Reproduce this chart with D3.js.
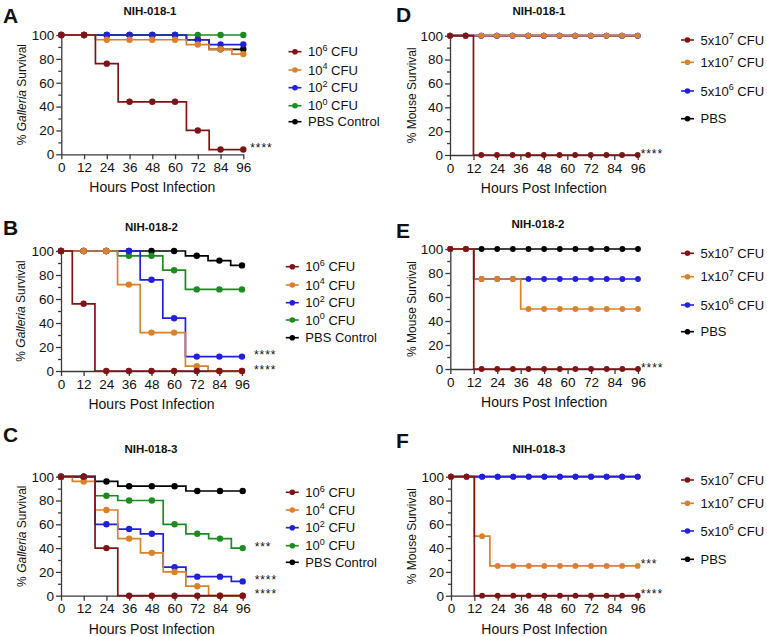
<!DOCTYPE html>
<html>
<head>
<meta charset="utf-8">
<script src="https://cdn.jsdelivr.net/npm/d3@7"></script>
<style>
  body { margin: 0; background: #fff; }
  svg text { font-family: "Liberation Sans", Arial, Helvetica, sans-serif; fill: #111; }
</style>
</head>
<body>
<svg id="fig" width="767" height="636"></svg>
<script>
// ---- data ----
const galleriaHours = [0, 12, 24, 36, 48, 60, 72, 84, 96];
const mouseHours = [0, 8, 16, 24, 32, 40, 48, 56, 64, 72, 80, 88, 96];
const xTicks = [0, 12, 24, 36, 48, 60, 72, 84, 96];
const yTicks = [0, 20, 40, 60, 80, 100];
const yMinorTicks = [10, 30, 50, 70, 90];

// legend labels: [base, superscript, suffix]
const galleriaLabels = [["10", "6", " CFU"], ["10", "4", " CFU"], ["10", "2", " CFU"], ["10", "0", " CFU"], ["PBS Control", "", ""]];
const mouseLabels = [["5x10", "7", " CFU"], ["1x10", "7", " CFU"], ["5x10", "6", " CFU"], ["PBS", "", ""]];
const galleriaColors = ["#7e1416", "#d9822b", "#2121dc", "#1e8a22", "#000000"];
const mouseColors = ["#7e1416", "#d9822b", "#2121dc", "#000000"];

// A  NIH-018-1 (Galleria)
const A_1e6 = [100, 100, 76, 44, 44, 44, 20, 4, 4];
const A_1e4 = [100, 100, 96, 96, 96, 96, 92, 88, 84];
const A_1e2 = [100, 100, 100, 100, 100, 100, 96, 92, 92];
const A_1e0 = [100, 100, 100, 100, 100, 100, 100, 100, 100];
const A_pbs = [100, 100, 100, 100, 100, 100, 96, 88, 88];
// B  NIH-018-2 (Galleria)
const B_1e6 = [100, 56, 0, 0, 0, 0, 0, 0, 0];
const B_1e4 = [100, 100, 100, 72, 32, 32, 4, 0, 0];
const B_1e2 = [100, 100, 100, 100, 76, 44, 12, 12, 12];
const B_1e0 = [100, 100, 100, 96, 96, 84, 68, 68, 68];
const B_pbs = [100, 100, 100, 100, 100, 100, 96, 92, 88];
// C  NIH-018-3 (Galleria)
const C_1e6 = [100, 100, 40, 0, 0, 0, 0, 0, 0];
const C_1e4 = [100, 96, 72, 48, 36, 20, 8, 0, 0];
const C_1e2 = [100, 100, 60, 56, 52, 24, 16, 16, 12];
const C_1e0 = [100, 100, 84, 80, 80, 60, 52, 48, 40];
const C_pbs = [100, 100, 96, 92, 92, 92, 88, 88, 88];
// D  NIH-018-1 (mouse)
const D_5e7 = [100, 100, 0, 0, 0, 0, 0, 0, 0, 0, 0, 0, 0];
const D_1e7 = [100, 100, 100, 100, 100, 100, 100, 100, 100, 100, 100, 100, 100];
const D_5e6 = [100, 100, 100, 100, 100, 100, 100, 100, 100, 100, 100, 100, 100];
const D_pbs = [100, 100, 100, 100, 100, 100, 100, 100, 100, 100, 100, 100, 100];
// E  NIH-018-2 (mouse)
const E_5e7 = [100, 100, 0, 0, 0, 0, 0, 0, 0, 0, 0, 0, 0];
const E_1e7 = [100, 100, 75, 75, 75, 50, 50, 50, 50, 50, 50, 50, 50];
const E_5e6 = [100, 100, 75, 75, 75, 75, 75, 75, 75, 75, 75, 75, 75];
const E_pbs = [100, 100, 100, 100, 100, 100, 100, 100, 100, 100, 100, 100, 100];
// F  NIH-018-3 (mouse)
const F_5e7 = [100, 100, 0, 0, 0, 0, 0, 0, 0, 0, 0, 0, 0];
const F_1e7 = [100, 100, 50, 25, 25, 25, 25, 25, 25, 25, 25, 25, 25];
const F_5e6 = [100, 100, 100, 100, 100, 100, 100, 100, 100, 100, 100, 100, 100];
const F_pbs = [100, 100, 100, 100, 100, 100, 100, 100, 100, 100, 100, 100, 100];

// significance marks: [survival value at 96 h, label]
const A_stars = [[4, "****"]];
const B_stars = [[12, "****"], [0, "****"]];
const C_stars = [[40, "***"], [12, "****"], [0, "****"]];
const D_stars = [[0, "****"]];
const E_stars = [[0, "****"]];
const F_stars = [[25, "***"], [0, "****"]];

// ---- layout ----
const panels = [
  { letter: "A", title: "NIH-018-1", kind: "g", series: [A_1e6, A_1e4, A_1e2, A_1e0, A_pbs], stars: A_stars,
    left: 61.3, right: 243.3, top: 35, bottom: 154.3, letterY: 23, titleX: 150, titleY: 15,
    legX: 295, legRows: [51.7, 70, 87.7, 105.7, 121.7], starDx: 7, yTitleX: 22 },
  { letter: "B", title: "NIH-018-2", kind: "g", series: [B_1e6, B_1e4, B_1e2, B_1e0, B_pbs], stars: B_stars,
    left: 61, right: 242, top: 251, bottom: 371, letterY: 235, titleX: 151.5, titleY: 231,
    legX: 292.3, legRows: [266.7, 285, 302.7, 320, 337.7], starDx: 12, yTitleX: 21 },
  { letter: "C", title: "NIH-018-3", kind: "g", series: [C_1e6, C_1e4, C_1e2, C_1e0, C_pbs], stars: C_stars,
    left: 61, right: 242.7, top: 476.7, bottom: 595.7, letterY: 442, titleX: 151, titleY: 453,
    legX: 292.3, legRows: [492.3, 510, 527.7, 545.7, 562.3], starDx: 12, yTitleX: 22 },
  { letter: "D", title: "NIH-018-1", kind: "m", series: [D_5e7, D_1e7, D_5e6, D_pbs], stars: D_stars,
    left: 450, right: 637.7, top: 35.7, bottom: 155, letterY: 22, titleX: 539, titleY: 15,
    legX: 687.5, legRows: [40, 62.3, 91, 118.7], starDx: 3, yTitleX: 412 },
  { letter: "E", title: "NIH-018-2", kind: "m", series: [E_5e7, E_1e7, E_5e6, E_pbs], stars: E_stars,
    left: 450.3, right: 638, top: 249, bottom: 369, letterY: 238, titleX: 538, titleY: 228,
    legX: 687.5, legRows: [253.3, 276.7, 305, 331.7], starDx: 3, yTitleX: 412 },
  { letter: "F", title: "NIH-018-3", kind: "m", series: [F_5e7, F_1e7, F_5e6, F_pbs], stars: F_stars,
    left: 451, right: 637.7, top: 476.7, bottom: 595.7, letterY: 448, titleX: 539, titleY: 453,
    legX: 687.5, legRows: [480, 503.3, 531, 559.3], starDx: 3, yTitleX: 412 }
];

const svg = d3.select("#fig");
const axisColor = "#3a3a3a";

panels.forEach(p => {
  const isG = p.kind === "g";
  const hours = isG ? galleriaHours : mouseHours;
  const colors = isG ? galleriaColors : mouseColors;
  const labels = isG ? galleriaLabels : mouseLabels;
  const r = isG ? 3.2 : 2.9;

  const x = d3.scaleLinear().domain([0, 96]).range([p.left, p.right]);
  const y = d3.scaleLinear().domain([0, 100]).range([p.bottom, p.top]);
  const g = svg.append("g");

  // panel letter + title
  g.append("text").attr("x", isG ? 3 : 396).attr("y", p.letterY)
    .attr("font-size", 21).attr("font-weight", "bold").text(p.letter);
  g.append("text").attr("x", p.titleX).attr("y", p.titleY).attr("text-anchor", "middle")
    .attr("font-size", 11.5).attr("font-weight", "bold").text(p.title);

  // axes
  g.append("g").attr("transform", `translate(${p.left},0)`)
    .call(d3.axisLeft(y).tickValues(yTicks).tickSize(5).tickSizeOuter(0).tickPadding(2));
  g.append("g").attr("transform", `translate(${p.left},0)`)
    .call(d3.axisLeft(y).tickValues(yMinorTicks).tickSize(3).tickFormat(""))
    .select(".domain").remove();
  g.append("g").attr("transform", `translate(0,${p.bottom})`)
    .call(d3.axisBottom(x).tickValues(xTicks).tickSize(5).tickSizeOuter(0).tickPadding(3));

  g.selectAll(".domain, .tick line").attr("stroke", axisColor).attr("stroke-width", 1.3);
  g.selectAll(".tick text").attr("font-size", 13.5).attr("fill", "#111")
    .attr("font-family", "Liberation Sans, Arial, sans-serif");

  // axis titles
  g.append("text").attr("x", (p.left + p.right) / 2).attr("y", p.bottom + 38)
    .attr("text-anchor", "middle").attr("font-size", 14).text("Hours Post Infection");
  const yt = g.append("text")
    .attr("transform", `translate(${p.yTitleX},${(p.top + p.bottom) / 2}) rotate(-90)`)
    .attr("text-anchor", "middle").attr("dy", "0.35em").attr("font-size", 12);
  if (isG) {
    yt.append("tspan").text("% ");
    yt.append("tspan").attr("font-style", "italic").text("Galleria");
    yt.append("tspan").text(" Survival");
  } else {
    yt.text("% Mouse Survival");
  }

  // survival curves, drawn from control up to highest dose
  const line = d3.line().x((d, i) => x(hours[i])).y(d => y(d)).curve(d3.curveStep);
  const order = d3.range(p.series.length).reverse();
  order.forEach(k => {
    const s = g.append("g");
    s.append("path").attr("d", line(p.series[k])).attr("fill", "none")
      .attr("stroke", colors[k]).attr("stroke-width", 1.7);
    s.selectAll("circle").data(p.series[k]).enter().append("circle")
      .attr("cx", (d, i) => x(hours[i])).attr("cy", d => y(d)).attr("r", r)
      .attr("fill", colors[k]);
  });

  // significance stars
  p.stars.forEach(([v, t]) => {
    g.append("text").attr("x", p.right + p.starDx).attr("y", y(v) + 2.5)
      .attr("font-size", 12).attr("letter-spacing", 0.9).text(t);
  });

  // legend
  labels.forEach((lab, k) => {
    const ry = p.legRows[k];
    g.append("line").attr("x1", p.legX - 6.5).attr("x2", p.legX + 6.5)
      .attr("y1", ry).attr("y2", ry).attr("stroke", colors[k]).attr("stroke-width", 1.6);
    g.append("circle").attr("cx", p.legX).attr("cy", ry).attr("r", 2.8).attr("fill", colors[k]);
    const t = g.append("text").attr("x", p.legX + 13).attr("y", ry + 4.7).attr("font-size", 13);
    t.append("tspan").text(lab[0]);
    if (lab[1]) {
      t.append("tspan").attr("font-size", 9).attr("dy", -5.5).text(lab[1]);
      t.append("tspan").attr("dy", 5.5).text(lab[2]);
    }
  });
});
</script>
</body>
</html>
